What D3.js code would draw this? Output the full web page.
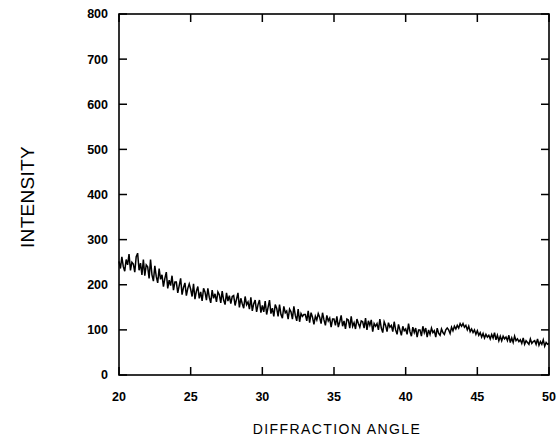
<!DOCTYPE html>
<html><head><meta charset="utf-8">
<script src="https://cdn.jsdelivr.net/npm/d3@7"></script>
<style>body{margin:0;background:#fff}svg{display:block}</style>
</head><body>
<svg id="c" width="560" height="440"></svg>
<script>
const xTicks = [20,25,30,35,40,45,50];
const yTicks = [0,100,200,300,400,500,600,700,800];
const angleStart = 20, angleStep = 0.1;
const intensity = [
252,236,262,240,230,256,244,268,232,250,
246,228,262,270,232,248,222,256,220,244,
240,214,256,222,208,242,218,204,236,212,
222,196,214,228,192,210,198,220,188,206,
206,182,198,214,178,194,204,176,192,202,
190,174,202,168,186,196,170,184,164,192,
184,166,192,172,160,188,170,180,162,184,
178,160,186,166,156,182,164,176,158,174,
176,154,168,182,150,170,158,148,174,156,
162,146,172,142,158,166,140,156,166,138,
154,140,164,134,150,166,136,148,130,156,
148,130,156,134,126,152,138,142,124,146,
140,124,152,132,120,146,118,136,130,134,
134,120,142,116,138,128,112,130,122,136,
128,114,138,122,110,132,120,126,106,124,
124,110,130,106,118,132,108,120,102,124,
122,104,130,108,116,102,124,114,106,120,
118,104,126,100,120,110,122,96,114,108,
114,100,124,104,94,118,110,96,116,106,
110,96,118,100,90,112,100,88,108,98,
102,90,114,96,86,106,94,104,84,100,
100,86,108,94,104,84,100,90,104,94,
98,84,104,92,88,102,94,90,100,104,
100,92,106,98,108,102,110,104,114,108,
114,106,110,100,108,96,102,94,100,90,
98,88,94,84,92,82,90,84,88,80,
90,82,94,78,88,76,86,76,86,80,
84,76,88,72,82,72,86,76,80,74,
78,70,82,68,76,72,68,80,70,74,
76,68,80,66,74,68,78,64,72,68,
70];
const xTitle = "DIFFRACTION ANGLE";
const yTitle = "INTENSITY";

const L=119,R=549,T=14,B=375;
const svg=d3.select("#c");
const x=d3.scaleLinear().domain([20,50]).range([L,R]);
const y=d3.scaleLinear().domain([0,800]).range([B,T]);
const font="Liberation Sans, Arial, sans-serif";

const data=intensity.map((v,i)=>({a:angleStart+i*angleStep,v}));

svg.append("path").datum(data)
 .attr("fill","none").attr("stroke","#000").attr("stroke-width",1.5)
 .attr("stroke-linejoin","miter")
 .attr("d",d3.line().x(d=>x(d.a)).y(d=>y(d.v)));

svg.append("rect").attr("x",L).attr("y",T).attr("width",R-L).attr("height",B-T)
 .attr("fill","none").attr("stroke","#000").attr("stroke-width",1.6);

const tl=8;
const tk=svg.append("g").attr("stroke","#000").attr("stroke-width",1.5);
tk.selectAll(".xb").data(xTicks).join("line").attr("class","xb")
 .attr("x1",d=>x(d)).attr("x2",d=>x(d)).attr("y1",B).attr("y2",B-tl);
tk.selectAll(".xt").data(xTicks).join("line").attr("class","xt")
 .attr("x1",d=>x(d)).attr("x2",d=>x(d)).attr("y1",T).attr("y2",T+tl);
tk.selectAll(".yl").data(yTicks).join("line").attr("class","yl")
 .attr("x1",L).attr("x2",L+tl).attr("y1",d=>y(d)).attr("y2",d=>y(d));
tk.selectAll(".yr").data(yTicks).join("line").attr("class","yr")
 .attr("x1",R).attr("x2",R-tl).attr("y1",d=>y(d)).attr("y2",d=>y(d));

svg.append("g").selectAll("text").data(xTicks).join("text")
 .attr("x",d=>x(d)).attr("y",401).attr("text-anchor","middle")
 .attr("font-family",font).attr("font-size",12.5).attr("font-weight","bold").attr("fill","#000")
 .text(d=>d);
svg.append("g").selectAll("text").data(yTicks).join("text")
 .attr("x",108).attr("y",d=>y(d)).attr("dy","0.35em").attr("text-anchor","end")
 .attr("font-family",font).attr("font-size",12.5).attr("font-weight","bold").attr("fill","#000")
 .text(d=>d);

svg.append("text").attr("x",337).attr("y",434).attr("text-anchor","middle")
 .attr("font-family",font).attr("font-size",14).attr("letter-spacing",1.4).attr("fill","#000").text(xTitle);
svg.append("text").attr("transform","translate(34,197) rotate(-90)").attr("text-anchor","middle")
 .attr("font-family",font).attr("font-size",19).attr("letter-spacing",0.3).attr("fill","#000").text(yTitle);
</script>
</body></html>
